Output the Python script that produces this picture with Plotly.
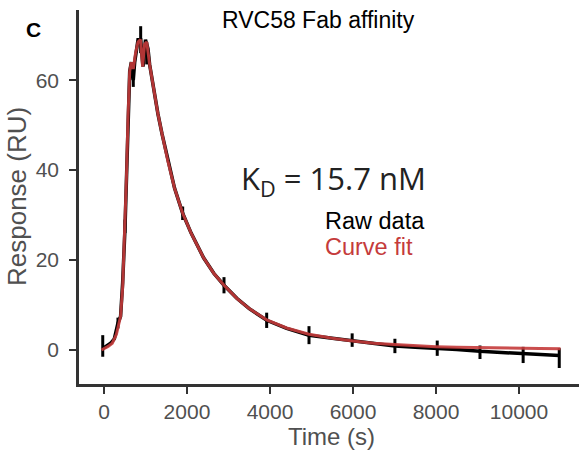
import plotly.graph_objects as go

# Sensorgram: raw response trace (time in s, response in RU)
raw_time = [-40, 0, 80, 160, 250, 337, 400, 450, 506, 545, 580, 620, 660, 706, 740,
            780, 820, 860, 884, 910, 940, 970, 1000, 1030, 1060, 1100, 1200, 1300,
            1400, 1540, 1700, 1896, 2100, 2400, 2650, 2892, 3200, 3500, 3920, 4400,
            4940, 5500, 5980, 6500, 7010, 7500, 8030, 8500, 9060, 9600, 10100, 10600,
            10970]
raw_resp = [0.5, 0.5, 1, 1.5, 2.5, 6, 7.5, 15, 27, 40, 54, 62, 64, 60, 64,
            67, 69, 69, 69, 66, 63, 66, 69, 68, 67, 63.5, 57.5, 52.5,
            48, 42, 36, 30.4, 26, 20.5, 17, 14.4, 11.5, 9.2, 6.6, 4.8,
            3.3, 2.6, 2.1, 1.4, 0.9, 0.6, 0.4, 0.1, -0.3, -0.6, -0.8, -1.0,
            -1.2]

# Spikes in the raw trace (centre and half-height, RU)
spike_time = [-30, 337, 506, 706, 884, 1030, 1896, 2892, 3920, 4940, 5980, 7010,
              8030, 9060, 10100, 10970]
spike_resp = [0.9, 6, 27.5, 59.5, 69, 66, 30.4, 14.4, 6.6, 3.3, 2.2, 0.9,
              0.4, -0.5, -1.1, -1.8]
spike_half = [2.4, 1.2, 1.5, 1.0, 3.0, 2.5, 1.5, 1.8, 1.7, 2.0, 1.5, 1.6,
              1.7, 1.5, 1.8, 2.2]

# Fitted binding model
fit_time = [-60, 0, 100, 200, 300, 350, 400, 450, 500, 540, 580, 620, 660, 706,
            760, 820, 880, 930, 980, 1030, 1100, 1200, 1300, 1400, 1540, 1700,
            1896, 2100, 2400, 2650, 2892, 3200, 3500, 3920, 4400, 4940, 5500,
            6000, 6500, 7000, 7500, 8000, 8500, 9000, 9500, 10000, 10500, 11000]
fit_resp = [0, 0.3, 0.8, 1.5, 3.5, 5.5, 7.5, 14, 26, 38, 52, 62, 64, 62.5,
            66, 68.5, 69, 63, 68, 68.5, 63.5, 57.5, 52.5, 48, 42, 36,
            30.4, 26, 20.5, 17, 14.4, 11.5, 9.2, 6.7, 4.9, 3.5, 2.6,
            2.0, 1.5, 1.2, 0.9, 0.75, 0.6, 0.5, 0.45, 0.4, 0.35, 0.3]

x_ticks = [0, 2000, 4000, 6000, 8000, 10000]
x_tick_text = ["0", "2000", "4000", "6000", "8000", "10000"]
y_ticks = [0, 20, 40, 60]

RED = "#c53b3b"
AXIS = "#333333"
SANS = "Liberation Sans, Arial"
TICKFONT = dict(family=SANS, size=21, color="#505050")

fig = go.Figure()
fig.add_trace(go.Scatter(x=raw_time, y=raw_resp, mode="lines",
                         line=dict(color="black", width=3.5), hoverinfo="skip"))
fig.add_trace(go.Scatter(x=spike_time, y=spike_resp, mode="markers",
                         marker=dict(size=1, color="black", opacity=0),
                         error_y=dict(type="data", array=spike_half, width=0,
                                      thickness=3, color="black"),
                         hoverinfo="skip"))
fig.add_trace(go.Scatter(x=fit_time, y=fit_resp, mode="lines", opacity=0.9,
                         line=dict(color=RED, width=3), hoverinfo="skip"))

L, T, W, H = 79, 10, 500, 374


def px(x):
    return (x - L) / W


def py(y):
    return (T + H - y) / H


annotations = [
    dict(text="<b>C</b>", x=px(33), y=py(30), font=dict(family=SANS, size=21, color="black")),
    dict(text="RVC58 Fab affinity", x=px(318), y=py(20), font=dict(family=SANS, size=23, color="black")),
    dict(text="Response (RU)", x=px(17), y=py(197), textangle=-90, font=dict(family=SANS, size=26, color="#505050")),
    dict(text="Time (s)", x=px(331), y=py(437), font=dict(family=SANS, size=24, color="#505050")),
    dict(text="K<sub>D</sub> = 15.7 nM", x=px(333), y=py(180), font=dict(family="Open Sans", size=31, color="#222222")),
    dict(text="Raw data", x=px(323), y=py(221), xanchor="left", font=dict(family=SANS, size=23.5, color="black")),
    dict(text="Curve fit", x=px(323), y=py(247), xanchor="left", font=dict(family=SANS, size=23.5, color=RED)),
]
for a in annotations:
    a.setdefault("xanchor", "center")
    a.update(xref="paper", yref="paper", yanchor="middle", showarrow=False)

fig.update_layout(
    width=579, height=457,
    margin=dict(l=L, r=579 - L - W, t=T, b=457 - T - H, autoexpand=False),
    paper_bgcolor="white", plot_bgcolor="white",
    showlegend=False,
    annotations=annotations,
    xaxis=dict(range=[-602, 11446], tickvals=x_ticks, ticktext=x_tick_text,
               ticks="outside", ticklen=7, tickwidth=2, tickcolor=AXIS,
               showline=True, linewidth=2.5, linecolor=AXIS, showgrid=False,
               zeroline=False, tickfont=TICKFONT),
    yaxis=dict(range=[-7.56, 75.6], tickvals=y_ticks, ticks="outside", ticklen=7,
               tickwidth=2, tickcolor=AXIS, showline=True, linewidth=2.5,
               linecolor=AXIS, showgrid=False, zeroline=False, tickfont=TICKFONT,
               ticklabelstandoff=6),
)

fig.write_html("out.html")
